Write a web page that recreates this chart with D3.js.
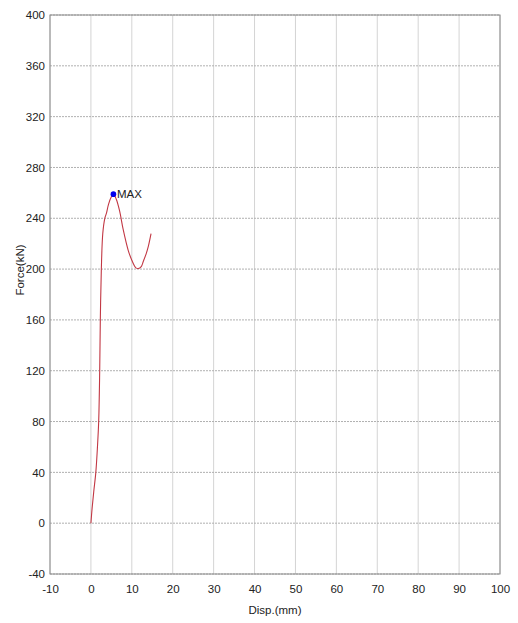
<!DOCTYPE html>
<html>
<head>
<meta charset="utf-8">
<script src="https://cdn.jsdelivr.net/npm/d3@7"></script>
<style>
  html, body { margin: 0; padding: 0; background: #fff; }
  svg { display: block; font-family: "Liberation Sans", Arial, sans-serif; }
</style>
</head>
<body>
<svg id="chart" width="518" height="623"></svg>
<script>
// Data
const dispValues  = [0, 0.3, 0.7, 1.2, 1.6, 1.9, 2.15, 2.3, 2.55, 2.9, 3.4, 3.8, 4.3, 5.0, 5.5, 6.2, 7.0, 7.9, 9.1, 10.0, 11.0, 11.6, 12.3, 12.8, 13.5, 14.0, 14.7];
const forceValues = [0, 12, 25, 40, 60, 80, 120, 160, 200, 228, 240, 244, 251, 257, 259, 255, 246, 231, 215, 207, 201, 200.5, 202, 206, 212, 217.5, 228];
const maxPoint = { disp: 5.5, force: 259, label: "MAX" };
const xTicks = [-10, 0, 10, 20, 30, 40, 50, 60, 70, 80, 90, 100];
const yTicks = [-40, 0, 40, 80, 120, 160, 200, 240, 280, 320, 360, 400];
const xTitle = "Disp.(mm)";
const yTitle = "Force(kN)";

(function () {
const svg = d3.select("#chart");
const pL = 50, pR = 500, pT = 15, pB = 574;

const x = d3.scaleLinear().domain([-10, 100]).range([pL, pR]);
const y = d3.scaleLinear().domain([-40, 400]).range([pB, pT]);

// vertical grid
svg.append("g").selectAll("line").data(xTicks).join("line")
  .attr("x1", d => x(d)).attr("x2", d => x(d))
  .attr("y1", pT).attr("y2", pB)
  .attr("stroke", "#d4d4d4").attr("stroke-width", 1);

// horizontal grid (dashed)
svg.append("g").selectAll("line").data(yTicks).join("line")
  .attr("x1", pL).attr("x2", pR)
  .attr("y1", d => y(d)).attr("y2", d => y(d))
  .attr("stroke", "#b0b0b0").attr("stroke-width", 1)
  .attr("stroke-dasharray", "2,1");

// frame
svg.append("rect")
  .attr("x", pL).attr("y", pT)
  .attr("width", pR - pL).attr("height", pB - pT)
  .attr("fill", "none").attr("stroke", "#8a8a8a").attr("stroke-width", 1);

// axes
const fmt = d => String(d);
const xAxis = d3.axisBottom(x).tickValues(xTicks).tickSize(0).tickPadding(11).tickFormat(fmt);
const yAxis = d3.axisLeft(y).tickValues(yTicks).tickSize(0).tickPadding(5).tickFormat(fmt);

const gx = svg.append("g").attr("transform", `translate(0,${pB})`).call(xAxis);
const gy = svg.append("g").attr("transform", `translate(${pL},0)`).call(yAxis);
[gx, gy].forEach(g => {
  g.select(".domain").remove();
  g.selectAll("text").attr("font-size", 11.5).attr("fill", "#222")
    .attr("font-family", "Liberation Sans, Arial, sans-serif");
});

// curve
const pts = dispValues.map((d, i) => [d, forceValues[i]]);
svg.append("path")
  .datum(pts)
  .attr("d", d3.line().x(d => x(d[0])).y(d => y(d[1])).curve(d3.curveCatmullRom.alpha(0.5)))
  .attr("fill", "none").attr("stroke", "#c23844").attr("stroke-width", 1.1);

// max marker
svg.append("circle")
  .attr("cx", x(maxPoint.disp)).attr("cy", y(maxPoint.force))
  .attr("r", 2.8).attr("fill", "#0000ee");
svg.append("text")
  .attr("x", x(maxPoint.disp) + 3.5).attr("y", y(maxPoint.force) + 4)
  .attr("font-size", 11.5).attr("fill", "#222")
  .text(maxPoint.label);

// titles
svg.append("text")
  .attr("x", (pL + pR) / 2).attr("y", 614)
  .attr("text-anchor", "middle").attr("font-size", 11.5).attr("fill", "#222")
  .text(xTitle);
svg.append("text")
  .attr("transform", `translate(24,270) rotate(-90)`)
  .attr("text-anchor", "middle").attr("font-size", 11.5).attr("fill", "#222")
  .text(yTitle);
})();
</script>
</body>
</html>
